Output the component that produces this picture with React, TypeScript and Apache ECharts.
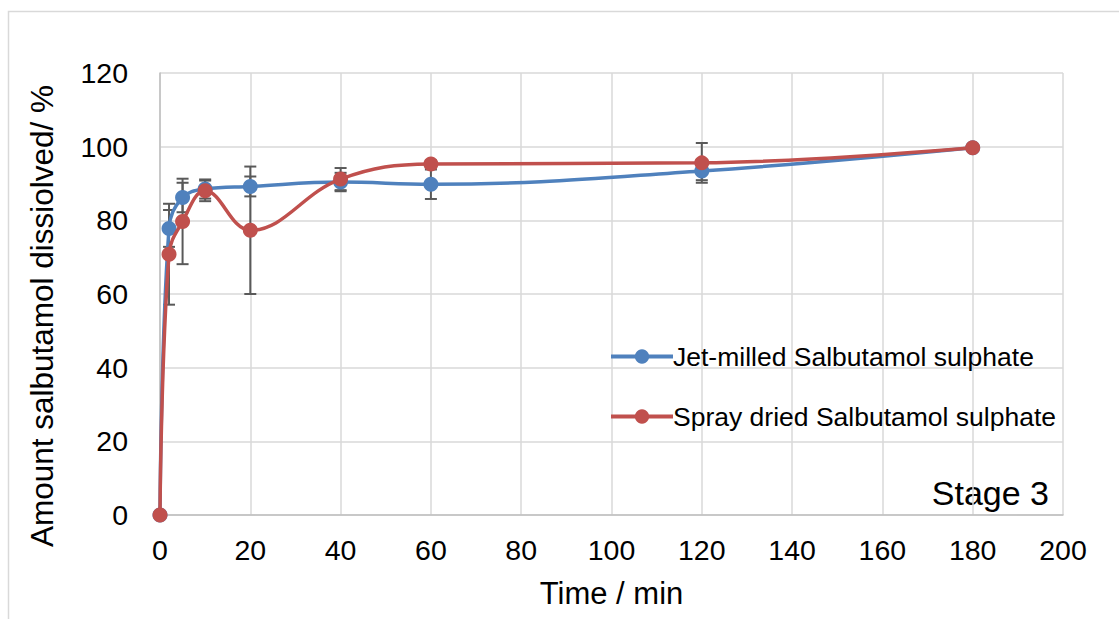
import React, { useEffect, useRef } from "react";
import * as echarts from "echarts";

const times = [0, 2, 5, 10, 20, 40, 60, 120, 180];
const jetMilled = [0, 77.8, 86.2, 88.5, 89.2, 90.4, 89.8, 93.4, 99.7];
const sprayDried = [0, 70.8, 79.7, 88.0, 77.3, 91.2, 95.3, 95.6, 99.7];
const jetErr = [0, 5, 4, 2.6, 2.7, 2.5, 4, 2.5, 0];
const sprayErr = [0, 13.7, 11.6, 2.8, 17.3, 3, 1, 5.4, 0];
const xTicks = { min: 0, max: 200, interval: 20 };
const yTicks = { min: 0, max: 120, interval: 20 };

const FONT = "'Liberation Sans', Arial, sans-serif";
const BLUE = "#4F81BD";
const RED = "#C0504D";
const GRID = "#D9D9D9";

function errData(vals: number[], errs: number[]) {
  const out: number[][] = [];
  times.forEach((t, i) => {
    if (errs[i] > 0) out.push([t, vals[i] - errs[i], vals[i] + errs[i]]);
  });
  return out;
}

function renderErr(params: any, api: any) {
  const x = api.value(0);
  const lo = api.coord([x, api.value(1)]);
  const hi = api.coord([x, api.value(2)]);
  const w = 6;
  const style = { stroke: "#595959", lineWidth: 2 };
  return {
    type: "group",
    children: [
      { type: "line", shape: { x1: lo[0], y1: lo[1], x2: hi[0], y2: hi[1] }, style },
      { type: "line", shape: { x1: lo[0] - w, y1: lo[1], x2: lo[0] + w, y2: lo[1] }, style },
      { type: "line", shape: { x1: hi[0] - w, y1: hi[1], x2: hi[0] + w, y2: hi[1] }, style },
    ],
  };
}

export default function App() {
  const ref = useRef<HTMLDivElement>(null);
  useEffect(() => {
    if (!ref.current) return;
    const chart = echarts.init(ref.current, undefined, { renderer: "svg" });
    const lineSeries = (name: string, vals: number[], color: string, z: number) => ({
      name,
      type: "line",
      data: times.map((t, i) => [t, vals[i]]),
      smooth: 0.4,
      symbol: "circle",
      symbolSize: 15,
      showSymbol: true,
      z,
      lineStyle: { color, width: 3.5 },
      itemStyle: { color },
    });
    chart.setOption({
      animation: false,
      textStyle: { fontFamily: FONT },
      grid: { left: 160, right: 56, top: 73, bottom: 104 },
      graphic: [
        {
          type: "rect",
          shape: { x: 8.5, y: 11.5, width: 1300, height: 800 },
          style: { fill: "none", stroke: GRID, lineWidth: 1.5 },
          silent: true,
        },
        {
          type: "text",
          right: 70,
          top: 476,
          style: { text: "Stage 3", fontSize: 34, fill: "#000", fontFamily: FONT },
        },
        {
          type: "text",
          x: 42,
          y: 316,
          rotation: Math.PI / 2,
          style: {
            text: "Amount salbutamol dissiolved/ %",
            fontSize: 31.5,
            fill: "#000",
            fontFamily: FONT,
            align: "center",
            verticalAlign: "middle",
          },
        },
      ],
      legend: {
        orient: "vertical",
        left: 604,
        top: 338,
        itemGap: 33,
        itemWidth: 62,
        itemHeight: 18,
        lineStyle: { width: 4 },
        data: ["Jet-milled Salbutamol sulphate", "Spray dried Salbutamol sulphate"],
        textStyle: { fontSize: 26.5, color: "#000", fontFamily: FONT, padding: [0, 0, 0, -5] },
      },
      xAxis: {
        type: "value",
        ...xTicks,
        name: "Time / min",
        nameLocation: "middle",
        nameGap: 63,
        nameTextStyle: { fontSize: 31, color: "#000", fontFamily: FONT },
        axisLine: { show: true, lineStyle: { color: "#BFBFBF", width: 1.5 } },
        axisTick: { show: false },
        axisLabel: { fontSize: 28.5, color: "#000", margin: 20, fontFamily: FONT },
        splitLine: { show: true, lineStyle: { color: GRID, width: 1.5 } },
      },
      yAxis: {
        type: "value",
        ...yTicks,
        axisLine: { show: true, lineStyle: { color: "#BFBFBF", width: 1.5 } },
        axisTick: { show: false },
        axisLabel: { fontSize: 28.5, color: "#000", margin: 32, fontFamily: FONT },
        splitLine: { show: true, lineStyle: { color: GRID, width: 1.5 } },
      },
      series: [
        {
          type: "custom",
          name: "errJet",
          renderItem: renderErr,
          data: errData(jetMilled, jetErr),
          encode: { x: 0, y: [1, 2] },
          z: 1,
          silent: true,
        },
        {
          type: "custom",
          name: "errSpray",
          renderItem: renderErr,
          data: errData(sprayDried, sprayErr),
          encode: { x: 0, y: [1, 2] },
          z: 1,
          silent: true,
        },
        lineSeries("Jet-milled Salbutamol sulphate", jetMilled, BLUE, 3),
        lineSeries("Spray dried Salbutamol sulphate", sprayDried, RED, 4),
      ],
    });
    return () => chart.dispose();
  }, []);
  return (
    <div
      ref={ref}
      style={{ position: "absolute", left: 0, top: 0, width: 1119, height: 619, background: "#fff" }}
    />
  );
}
